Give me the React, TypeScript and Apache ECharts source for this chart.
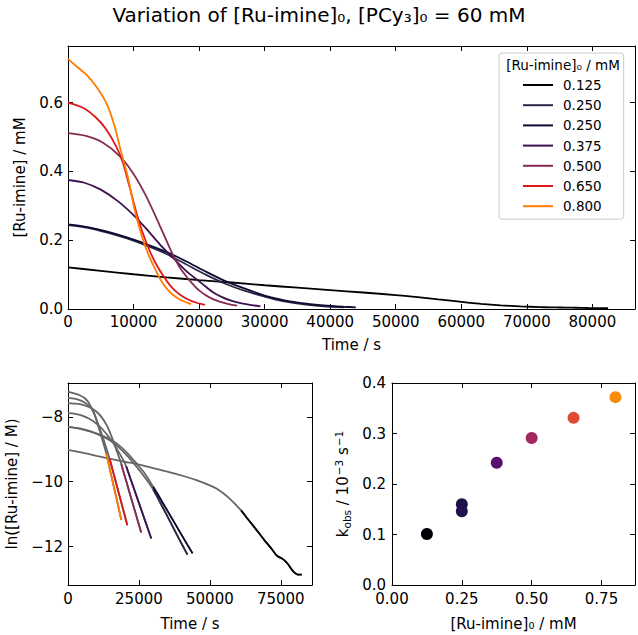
import React, { useEffect, useRef } from 'react';
import * as echarts from 'echarts';

const FONT = 'DejaVu Sans';

// ---- legend / colours ----
const legendTitle = '[Ru-imine]₀ / mM';
const legendLabels = ['0.125', '0.250', '0.250', '0.375', '0.500', '0.650', '0.800'];
const lineColors = ['#000000', '#2a2948', '#0e0b32', '#3b1152', '#862b55', '#dc1818', '#ff7c00'];
const pointColors = ['#000004', '#1d1147', '#221150', '#57106e', '#a3285d', '#de4b33', '#f98b0e'];

// ---- concentration vs time traces (t / s, [Ru-imine] / mM) ----
const time0125 = [0, 5000, 10000, 15000, 20000, 25000, 30000, 35000, 40000, 45000, 50000, 53000, 56500, 61000, 63000, 66000, 69000, 72000, 73500, 75200, 76400, 77500, 79300, 81100, 82400];
const conc0125 = [0.121, 0.111, 0.101, 0.092, 0.084, 0.077, 0.069, 0.062, 0.055, 0.048, 0.0405, 0.0355, 0.028, 0.0188, 0.015, 0.0108, 0.0077, 0.0056, 0.0047, 0.0043, 0.004, 0.0036, 0.0029, 0.0026, 0.0026];

const time0250a = [0, 3000, 6000, 9000, 12000, 15000, 18000, 21000, 24000, 27000, 30000, 31500, 33000, 36000, 39000, 42100];
const conc0250a = [0.244, 0.236, 0.222, 0.205, 0.184, 0.16, 0.13, 0.1, 0.0735, 0.0525, 0.036, 0.0283, 0.022, 0.0133, 0.008, 0.0048];

const time0250b = [0, 3000, 6000, 9000, 12000, 15000, 18000, 21000, 24000, 27000, 30000, 31500, 33000, 36000, 39000, 42000, 43900];
const conc0250b = [0.246, 0.238, 0.225, 0.208, 0.188, 0.166, 0.139, 0.109, 0.081, 0.059, 0.039, 0.0315, 0.0252, 0.0161, 0.0103, 0.0066, 0.005];

const time0375 = [0, 2500, 5000, 7500, 10000, 12000, 14000, 16000, 18000, 19300, 20500, 22000, 23500, 25000, 26500, 28000, 29350];
const conc0375 = [0.375, 0.367, 0.347, 0.315, 0.273, 0.232, 0.188, 0.149, 0.111, 0.091, 0.073, 0.0501, 0.0344, 0.0236, 0.0162, 0.0111, 0.0079];

const time0500 = [0, 2740, 5280, 7800, 9850, 11900, 13900, 15940, 17000, 18000, 18800, 20000, 21500, 23000, 24500, 25800];
const conc0500 = [0.511, 0.503, 0.484, 0.446, 0.397, 0.329, 0.247, 0.16, 0.122, 0.096, 0.0775, 0.0541, 0.0345, 0.022, 0.014, 0.0095];

const time0650 = [0, 2280, 4300, 5840, 7360, 8380, 9390, 10400, 11420, 12440, 13450, 14700, 15500, 16500, 17500, 18500, 19500, 20900];
const conc0650 = [0.6, 0.585, 0.556, 0.522, 0.472, 0.425, 0.355, 0.283, 0.22, 0.17, 0.13, 0.0914, 0.0703, 0.0506, 0.0364, 0.0262, 0.0189, 0.0119];

const time0800 = [0, 1500, 2800, 4300, 5840, 7100, 8120, 9140, 10150, 11170, 12180, 13500, 14500, 15500, 16500, 17500, 18800];
const conc0800 = [0.727, 0.702, 0.681, 0.647, 0.599, 0.532, 0.455, 0.383, 0.29, 0.218, 0.162, 0.108, 0.0735, 0.05, 0.034, 0.0232, 0.014];

// start of the first-order fit region (s), per trace
const fitStart = [61000, 30000, 30000, 20500, 18800, 14700, 13500];

// ---- k_obs vs [Ru-imine]0 ----
const ruImine0 = [0.125, 0.25, 0.25, 0.375, 0.5, 0.65, 0.8];
const kObs = [0.101, 0.16, 0.146, 0.242, 0.291, 0.331, 0.372];

const traces = [
  { t: time0125, c: conc0125 },
  { t: time0250a, c: conc0250a },
  { t: time0250b, c: conc0250b },
  { t: time0375, c: conc0375 },
  { t: time0500, c: conc0500 },
  { t: time0650, c: conc0650 },
  { t: time0800, c: conc0800 },
];

const onStep = (v: number, step: number) => Math.abs(v / step - Math.round(v / step)) < 1e-6;
const minus = (v: number) => (v < 0 ? '\u2212' + String(Math.abs(v)) : String(v));

const FS = 15;
const txt = { color: '#000', fontSize: FS, fontFamily: FONT };

function makeAxis(opts: any) {
  const { gridIndex, min, max, step, fmt, pos, name, nameGap, fixedStep, nameTextStyle, margin } = opts;
  const showLabel = pos === 'bottom' || pos === 'left';
  const ax: any = {
    type: 'value',
    gridIndex,
    position: pos,
    min,
    max,
    axisLine: { show: true, onZero: false, lineStyle: { color: '#000', width: 1 } },
    axisTick: { show: true, inside: true, length: 5, lineStyle: { color: '#000', width: 1 } },
    axisLabel: {
      show: showLabel,
      margin: margin ?? 5,
      ...txt,
      lineHeight: 14,
      formatter: (v: number) => (onStep(v, step) ? fmt(v) : ''),
    },
    splitLine: { show: false },
  };
  if (fixedStep) {
    ax.minInterval = step;
    ax.maxInterval = step;
    ax.splitNumber = 3;
  } else {
    ax.interval = step;
  }
  if (name && showLabel) {
    ax.name = name;
    ax.nameLocation = 'middle';
    ax.nameGap = nameGap;
    ax.nameTextStyle = nameTextStyle || { ...txt };
  }
  return ax;
}

export default function App() {
  const ref = useRef<HTMLDivElement>(null);

  useEffect(() => {
    if (!ref.current) return;
    const chart = echarts.init(ref.current, undefined, { renderer: 'svg' });

    const topX = { gridIndex: 0, min: 0, max: 86500, step: 10000, fmt: (v: number) => String(v) };
    const topY = { gridIndex: 0, min: 0, max: 0.7645, step: 0.2, fmt: (v: number) => v.toFixed(1) };
    const blX = { gridIndex: 1, min: 0, max: 86000, step: 25000, fmt: (v: number) => String(v) };
    const blY = { gridIndex: 1, min: -13.18, max: -6.96, step: 2, fmt: minus, fixedStep: true };
    const brX = { gridIndex: 2, min: 0, max: 0.87, step: 0.25, fmt: (v: number) => v.toFixed(2) };
    const brY = { gridIndex: 2, min: 0, max: 0.4, step: 0.1, fmt: (v: number) => v.toFixed(1) };

    const lineCommon = {
      type: 'line',
      symbol: 'none',
      showSymbol: false,
      smooth: 0.25,
    };

    const series: any[] = [];
    traces.forEach((tr, i) => {
      series.push({
        ...lineCommon,
        name: 's' + i,
        xAxisIndex: 0,
        yAxisIndex: 0,
        data: tr.t.map((t, j) => [t, tr.c[j]]),
        lineStyle: { color: lineColors[i], width: 1.8 },
        itemStyle: { color: lineColors[i] },
        z: 2 + i,
      });
    });
    traces.forEach((tr, i) => {
      series.push({
        ...lineCommon,
        name: 'ln' + i,
        xAxisIndex: 2,
        yAxisIndex: 2,
        data: tr.t.map((t, j) => [t, Math.log(tr.c[j] * 1e-3)]),
        lineStyle: { color: '#666666', width: 1.8 },
        z: 2,
      });
    });
    traces.forEach((tr, i) => {
      const pts = tr.t
        .map((t, j) => [t, Math.log(tr.c[j] * 1e-3)])
        .filter((p) => p[0] >= fitStart[i]);
      series.push({
        ...lineCommon,
        name: 'fit' + i,
        xAxisIndex: 2,
        yAxisIndex: 2,
        data: pts,
        lineStyle: { color: lineColors[i], width: 1.8 },
        z: 3,
      });
    });
    series.push({
      type: 'scatter',
      name: 'kobs',
      xAxisIndex: 4,
      yAxisIndex: 4,
      symbolSize: 12,
      data: ruImine0.map((x, i) => ({ value: [x, kObs[i]], itemStyle: { color: pointColors[i], opacity: 1 } })),
      z: 3,
    });

    const base = { ...txt, lineHeight: 18 };
    const small = { color: '#000', fontFamily: FONT, fontSize: 10.5, lineHeight: 11 };

    const option: any = {
      animation: false,
      backgroundColor: '#ffffff',
      textStyle: { fontFamily: FONT },
      title: {
        text: 'Variation of [Ru-imine]₀, [PCy₃]₀ = 60 mM',
        left: 'center',
        top: 0,
        textStyle: { color: '#000', fontSize: 20, fontWeight: 'normal', fontFamily: FONT },
      },
      grid: [
        { left: 68, top: 46, width: 567, height: 263, outerBoundsMode: 'none' },
        { left: 68, top: 383, width: 244, height: 202, outerBoundsMode: 'none' },
        { left: 392, top: 383, width: 243, height: 202, outerBoundsMode: 'none' },
      ],
      xAxis: [
        makeAxis({ ...topX, pos: 'bottom', name: 'Time / s', nameGap: 28, margin: 6 }),
        makeAxis({ ...topX, pos: 'top' }),
        makeAxis({ ...blX, pos: 'bottom', name: 'Time / s', nameGap: 31, margin: 7 }),
        makeAxis({ ...blX, pos: 'top' }),
        makeAxis({ ...brX, pos: 'bottom', name: '[Ru-imine]₀ / mM', nameGap: 31, margin: 7 }),
        makeAxis({ ...brX, pos: 'top' }),
      ],
      yAxis: [
        makeAxis({ ...topY, pos: 'left', name: '[Ru-imine] / mM', nameGap: 41 }),
        makeAxis({ ...topY, pos: 'right' }),
        makeAxis({ ...blY, pos: 'left', name: 'ln([Ru-imine] / M)', nameGap: 49 }),
        makeAxis({ ...blY, pos: 'right' }),
        makeAxis({
          ...brY,
          pos: 'left',
          margin: 6,
          name: '{b|k}{sub|obs}{b| / 10}{sup|−3}{b| s}{sup|−1}',
          nameGap: 40,
          nameTextStyle: {
            ...txt,
            rich: {
              b: base,
              sub: { ...small, padding: [8, 0, 0, 0] },
              sup: { ...small, padding: [0, 0, 8, 1] },
            },
          },
        }),
        makeAxis({ ...brY, pos: 'right' }),
      ],
      legend: {
        data: traces.map((_, i) => 's' + i),
        formatter: (name: string) => legendLabels[Number(name.slice(1))],
        orient: 'vertical',
        left: 499,
        top: 53,
        padding: [25, 22, 6, 24],
        icon: 'rect',
        itemWidth: 30,
        itemHeight: 2,
        itemGap: 6.2,
        selectedMode: false,
        textStyle: { color: '#000', fontSize: 13.5, fontFamily: FONT, lineHeight: 14, padding: [0, 0, 0, 5] },
        backgroundColor: 'rgba(255,255,255,0.8)',
        borderColor: '#cccccc',
        borderWidth: 1,
        borderRadius: 3,
        z: 10,
      },
      graphic: [
        {
          type: 'text',
          x: 563,
          y: 65,
          z: 100,
          style: { text: legendTitle, fill: '#000', fontSize: 13.5, fontFamily: FONT, align: 'center', verticalAlign: 'middle' },
        },
      ],
      series,
    };

    chart.setOption(option);
    return () => chart.dispose();
  }, []);

  return (
    <div
      ref={ref}
      style={{ position: 'fixed', left: 0, top: 0, width: 638, height: 635, background: '#fff' }}
    />
  );
}
